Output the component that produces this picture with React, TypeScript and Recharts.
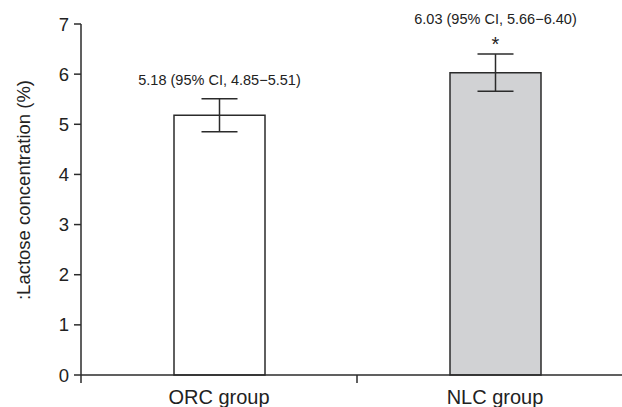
import React from 'react';
import { BarChart, Bar, XAxis, YAxis, ErrorBar, Cell, LabelList, Label } from 'recharts';

const categories = ['ORC group', 'NLC group'];
const means = [5.18, 6.03];
const ciLow = [4.85, 5.66];
const ciHigh = [5.51, 6.4];
const significant = [false, true];
const yTicks = [0, 1, 2, 3, 4, 5, 6, 7];

const FILLS = ['#ffffff', '#d1d2d4'];
const INK = '#2b2b2b';
const FONT = '"Liberation Sans", Arial, Helvetica, sans-serif';

const data = categories.map((name, i) => ({
  name,
  value: means[i],
  err: [+(means[i] - ciLow[i]).toFixed(2), +(ciHigh[i] - means[i]).toFixed(2)],
  label: `${means[i].toFixed(2)} (95% CI, ${ciLow[i].toFixed(2)}\u2212${ciHigh[i].toFixed(2)})`,
  star: significant[i],
}));

const CHART_W = 660;
const CHART_H = 430;
const LEFT = 81;
const RIGHT = 27;
const BAND = (CHART_W - LEFT - RIGHT) / categories.length;

function GroupTick(props: any) {
  const { x, y, payload } = props;
  return (
    <g>
      <line x1={x - BAND / 2} x2={x - BAND / 2} y1={y} y2={y + 8} stroke={INK} strokeWidth={1.5} />
      <text x={x} y={y + 29} textAnchor="middle" fontSize={20} fill="#222" fontFamily={FONT}>
        {payload.value}
      </text>
    </g>
  );
}

function CiLabel(props: any) {
  const { x, y, width, height, index } = props;
  const d = data[index];
  const cx = x + width / 2;
  const perUnit = height / d.value;
  const yHi = y - d.err[1] * perUnit;
  const textY = yHi - 18 - (d.star ? 16 : 0);
  return (
    <g>
      <text x={cx} y={textY} textAnchor="middle" dominantBaseline="middle" fontSize={14.5} fill="#222" fontFamily={FONT}>
        {d.label}
      </text>
      {d.star && (
        <text x={cx} y={yHi - 3} textAnchor="middle" fontSize={20} fill="#222" fontFamily={FONT}>
          *
        </text>
      )}
    </g>
  );
}

export default function App() {
  return (
    <div style={{ position: 'absolute', left: 0, top: 0, width: 622, height: 407, overflow: 'hidden', background: '#fff' }}>
      <BarChart
        width={CHART_W}
        height={CHART_H}
        data={data}
        margin={{ top: 24, right: RIGHT, bottom: 15, left: 0 }}
      >
        <XAxis
          dataKey="name"
          axisLine={{ stroke: INK, strokeWidth: 1.5 }}
          tickLine={false}
          tickSize={0}
          tickMargin={0}
          height={40}
          tick={<GroupTick />}
          interval={0}
        />
        <YAxis
          domain={[0, 7]}
          ticks={yTicks}
          width={LEFT}
          axisLine={{ stroke: INK, strokeWidth: 1.5 }}
          tickLine={{ stroke: INK, strokeWidth: 1.5 }}
          tickSize={7}
          tickMargin={5}
          tick={{ fontSize: 18.5, fill: '#222', fontFamily: FONT }}
        >
          <Label
            value=":Lactose concentration (%)"
            angle={-90}
            position="insideLeft"
            content={() => (
              <text
                x={25}
                y={190}
                transform="rotate(-90 25 190)"
                textAnchor="middle"
                dominantBaseline="middle"
                fontSize={18.5}
                fill="#222"
                fontFamily={FONT}
              >
                :Lactose concentration (%)
              </text>
            )}
          />
        </YAxis>
        <Bar dataKey="value" barSize={91} stroke={INK} strokeWidth={1.5} isAnimationActive={false}>
          {data.map((d, i) => (
            <Cell key={d.name} fill={FILLS[i]} />
          ))}
          <ErrorBar dataKey="err" width={18} stroke={INK} strokeWidth={1.5} direction="y" />
          <LabelList dataKey="value" content={<CiLabel />} />
        </Bar>
      </BarChart>
    </div>
  );
}
